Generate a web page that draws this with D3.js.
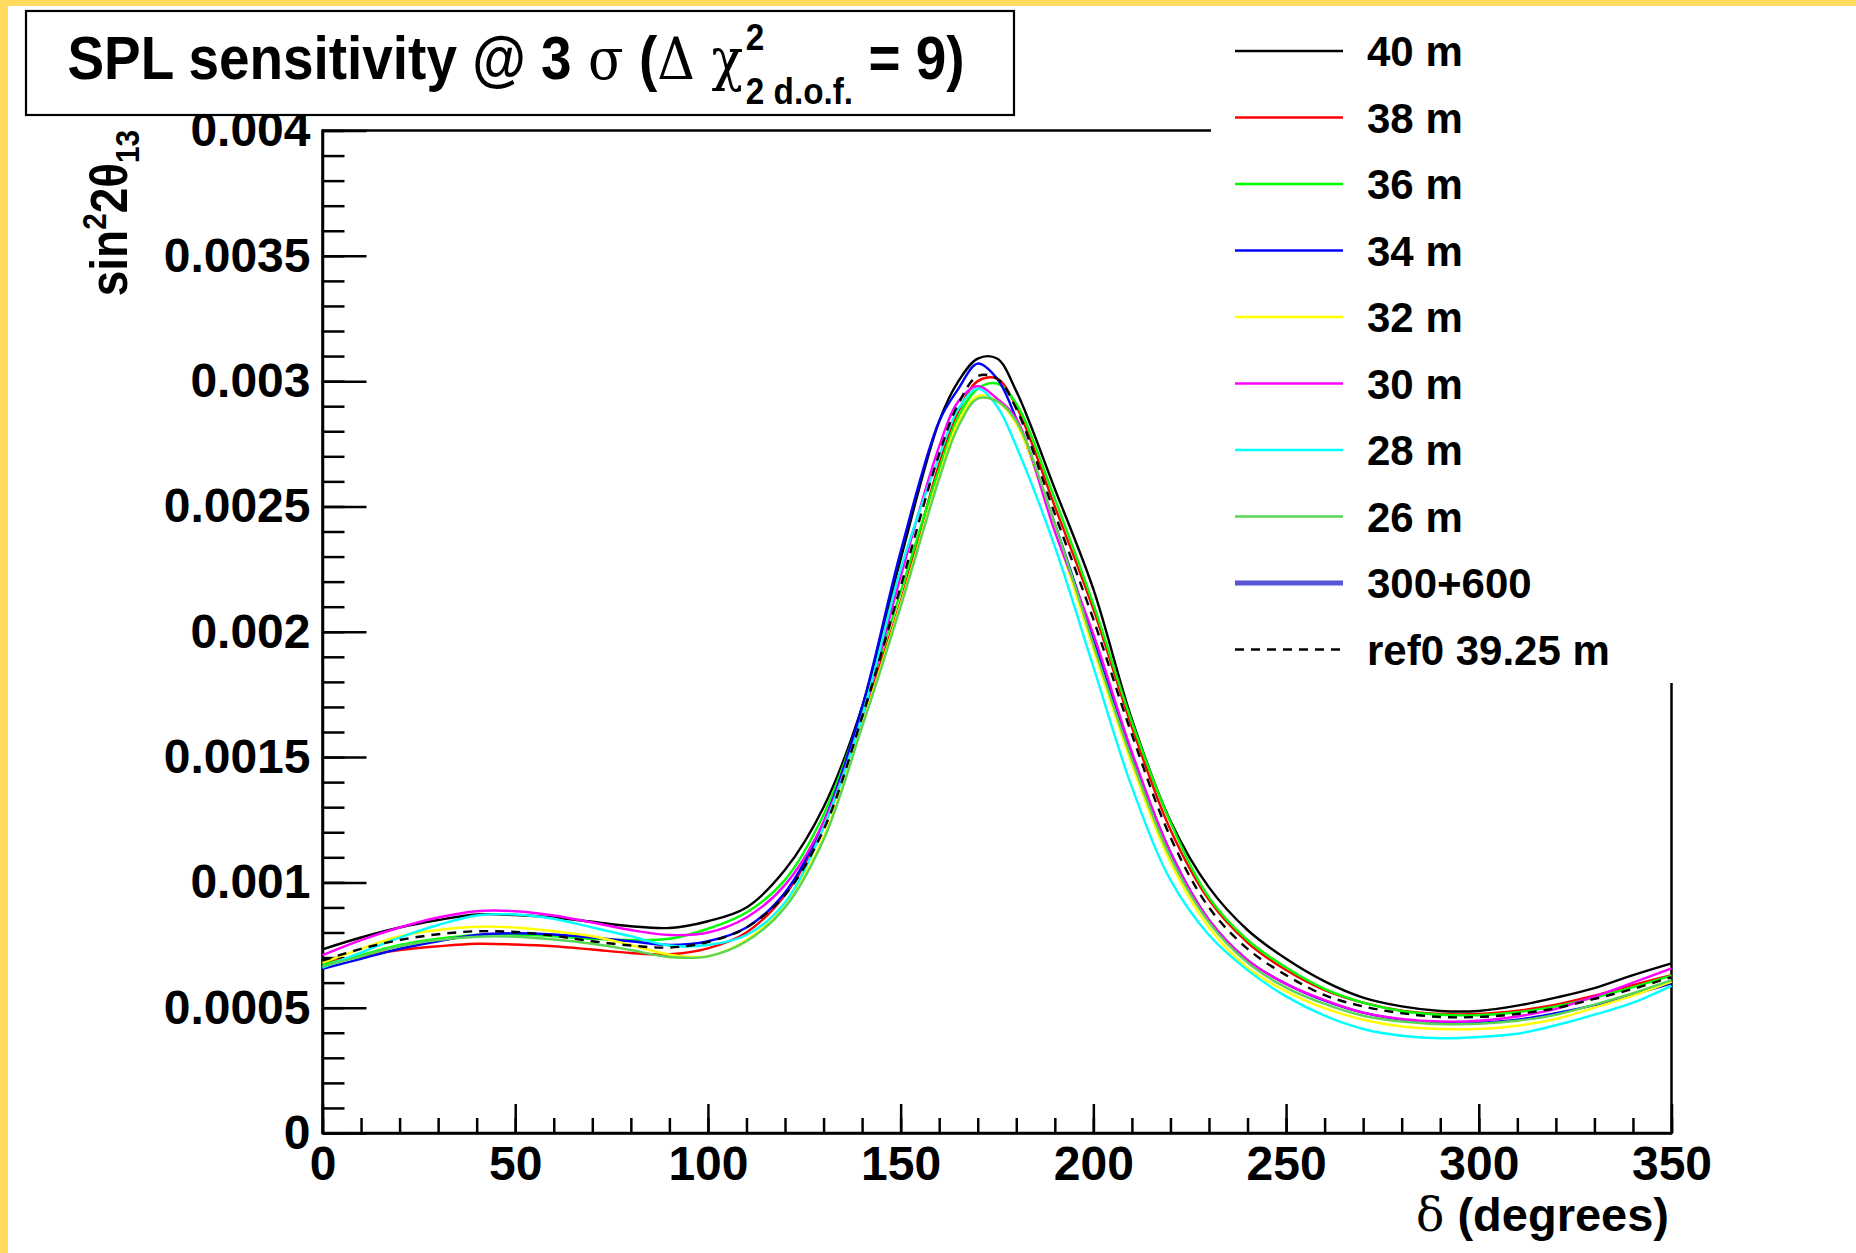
<!DOCTYPE html>
<html>
<head>
<meta charset="utf-8">
<script src="https://cdn.jsdelivr.net/npm/d3@7"></script>
<style>
body { margin: 0; background: #fff; }
svg text { font-family: "Liberation Sans", Arial, Helvetica, sans-serif; font-weight: bold; fill: #000; }
.axis path, .axis line { stroke: #000; stroke-width: 2.5; }
.axis text { font-size: 48px; font-family: "Liberation Sans", Arial, sans-serif; font-weight: bold; }
.greek { font-family: "DejaVu Serif", "Liberation Serif", serif; font-weight: normal; }
</style>
</head>
<body>
<svg width="1856" height="1253"></svg>
<script>
// delta (degrees) sampling points
var deg = [0,10,20,30,40,50,60,70,80,90,100,110,120,130,140,150,160,165,170,175,180,190,200,210,220,230,240,250,260,270,280,290,300,310,320,330,340,350];

// sin^2 2theta13 sensitivity for each baseline
var m40 = [0.000733,0.00078,0.00082,0.00085,0.000872,0.00087,0.00086,0.000843,0.000825,0.000818,0.000845,0.0009,0.00105,0.0013,0.0017,0.00229,0.00284,0.003,0.00309,0.00309,0.00296,0.00257,0.00217,0.00165,0.001245,0.00098,0.00081,0.000695,0.000605,0.00054,0.000505,0.000487,0.000487,0.000508,0.00054,0.000578,0.00063,0.000677];
var m38 = [0.00068,0.000705,0.00073,0.000745,0.000755,0.000752,0.000745,0.000732,0.000718,0.000713,0.000737,0.0008,0.00095,0.00122,0.00166,0.00212,0.00267,0.00288,0.003,0.00301,0.0029,0.0025,0.00209,0.00162,0.00121,0.00093,0.00076,0.00065,0.00057,0.00052,0.000488,0.000475,0.000475,0.000488,0.000512,0.000548,0.00059,0.00063];
var m36 = [0.000672,0.00071,0.00075,0.000775,0.00079,0.000792,0.000785,0.000775,0.00077,0.000775,0.000815,0.00088,0.00101,0.00127,0.00168,0.00216,0.00265,0.00286,0.00297,0.00299,0.00291,0.00253,0.00211,0.00164,0.00124,0.00094,0.00077,0.00066,0.000575,0.00052,0.000487,0.000472,0.00047,0.000482,0.000505,0.00054,0.000582,0.000628];
var m34 = [0.000655,0.000695,0.000735,0.000765,0.00079,0.000797,0.000792,0.00078,0.000765,0.00075,0.000765,0.00082,0.00096,0.00124,0.0017,0.00232,0.00284,0.00297,0.00307,0.00301,0.00285,0.00243,0.00197,0.00151,0.00112,0.00085,0.00069,0.000595,0.000528,0.00048,0.000452,0.000439,0.00044,0.000452,0.000478,0.00051,0.000552,0.000597];
var m32 = [0.00068,0.000735,0.000785,0.00081,0.000823,0.00082,0.000805,0.000785,0.00075,0.000712,0.000705,0.00077,0.00091,0.00118,0.00163,0.00211,0.00262,0.00284,0.00294,0.00292,0.00283,0.00241,0.00193,0.00147,0.00108,0.00082,0.00066,0.000565,0.000498,0.000452,0.000425,0.000415,0.000415,0.000428,0.000455,0.0005,0.000548,0.000604];
var m30 = [0.00071,0.00077,0.00082,0.00086,0.000885,0.000885,0.000868,0.00084,0.00081,0.00079,0.0008,0.00086,0.00099,0.00124,0.00166,0.00222,0.00274,0.00292,0.00298,0.00293,0.00285,0.0024,0.00199,0.00152,0.00112,0.00085,0.00069,0.000595,0.00053,0.00048,0.000455,0.000445,0.000448,0.000465,0.000495,0.000545,0.0006,0.000657];
var m28 = [0.00066,0.00072,0.00078,0.00083,0.000868,0.000872,0.000855,0.00082,0.000785,0.000748,0.00075,0.00079,0.00092,0.00122,0.00166,0.00225,0.0027,0.00289,0.00297,0.0029,0.00274,0.00234,0.00186,0.00138,0.00101,0.00079,0.00065,0.000545,0.000468,0.000415,0.000388,0.000378,0.000383,0.000396,0.00043,0.000472,0.00052,0.000587];
var m26 = [0.000665,0.000705,0.000745,0.00077,0.000783,0.000783,0.000772,0.000755,0.00073,0.000702,0.000705,0.000765,0.0009,0.00117,0.00162,0.0021,0.00261,0.00282,0.00293,0.00292,0.00284,0.00243,0.00195,0.00149,0.0011,0.00084,0.00068,0.00058,0.000515,0.000468,0.000445,0.000435,0.000436,0.000448,0.000472,0.000512,0.000558,0.00061];
var ref0 = [0.000688,0.000735,0.00077,0.000793,0.000805,0.000802,0.000787,0.000765,0.000748,0.00074,0.000762,0.00082,0.00095,0.00121,0.00166,0.00218,0.00271,0.00291,0.00302,0.00301,0.00289,0.00247,0.00205,0.00159,0.00118,0.0009,0.000735,0.00063,0.00055,0.000505,0.000478,0.000463,0.000463,0.000475,0.000498,0.000535,0.000575,0.000622];

var xTicks = [0,50,100,150,200,250,300,350];
var yTicks = [0,0.0005,0.001,0.0015,0.002,0.0025,0.003,0.0035,0.004];
var yTickLabels = ["0","0.0005","0.001","0.0015","0.002","0.0025","0.003","0.0035","0.004"];

var legendLabels = ["40 m","38 m","36 m","34 m","32 m","30 m","28 m","26 m","300+600","ref0 39.25 m"];
var legendColors = ["#000000","#ff0000","#00ff00","#0000ff","#ffff00","#ff00ff","#00ffff","#59d454","#5954d8","#000000"];

var series = [
  {key: "40 m", values: m40, color: "#000000"},
  {key: "38 m", values: m38, color: "#ff0000"},
  {key: "36 m", values: m36, color: "#00ff00"},
  {key: "34 m", values: m34, color: "#0000ff"},
  {key: "32 m", values: m32, color: "#ffff00"},
  {key: "30 m", values: m30, color: "#ff00ff"},
  {key: "28 m", values: m28, color: "#00ffff"},
  {key: "26 m", values: m26, color: "#59d454"},
  {key: "ref0 39.25 m", values: ref0, color: "#000000", dash: "9,7"}
];

var svg = d3.select("svg");

// yellow page edge
svg.append("rect").attr("width", 1856).attr("height", 1253).attr("fill", "#ffda5c");
svg.append("rect").attr("x", 8).attr("y", 6).attr("width", 1848).attr("height", 1247).attr("fill", "#fff");

var margin = {top: 130.5, right: 184.5, bottom: 120, left: 322.5},
    width = 1856 - margin.left - margin.right,
    height = 1253 - margin.top - margin.bottom,
    g = svg.append("g").attr("transform", "translate(" + margin.left + "," + margin.top + ")");

var x = d3.scaleLinear().domain([0, 350]).range([0, width]);
var y = d3.scaleLinear().domain([0, 0.004]).range([height, 0]);

// frame
g.append("rect")
  .attr("width", width).attr("height", height)
  .attr("fill", "none").attr("stroke", "#000").attr("stroke-width", 2.5);

// minor ticks
g.append("g").attr("class", "axis")
  .call(d3.axisLeft(y).tickValues(y.ticks(40)).tickSize(-22).tickSizeOuter(0).tickFormat(""))
  .select(".domain").remove();
g.append("g").attr("class", "axis")
  .attr("transform", "translate(0," + height + ")")
  .call(d3.axisBottom(x).tickValues(x.ticks(35)).tickSize(-15).tickSizeOuter(0).tickFormat(""))
  .select(".domain").remove();

// major ticks + labels
g.append("g").attr("class", "axis")
  .call(d3.axisLeft(y).tickValues(yTicks).tickSize(-44).tickSizeOuter(0).tickPadding(12)
    .tickFormat(function(d, i) { return yTickLabels[i]; }));
g.append("g").attr("class", "axis")
  .attr("transform", "translate(0," + height + ")")
  .call(d3.axisBottom(x).tickValues(xTicks).tickSize(-29).tickSizeOuter(0).tickPadding(13));

// curves
var line = d3.line()
  .x(function(d, i) { return x(deg[i]); })
  .y(function(d) { return y(d); })
  .curve(d3.curveCatmullRom.alpha(0.5));

g.append("g").selectAll("path")
  .data(series)
  .enter().append("path")
    .attr("d", function(d) { return line(d.values); })
    .attr("fill", "none")
    .attr("stroke", function(d) { return d.color; })
    .attr("stroke-width", 2.4)
    .attr("stroke-dasharray", function(d) { return d.dash || null; });

// axis titles
var ylab = svg.append("text")
  .attr("transform", "translate(127,130) rotate(-90) scale(0.9,1)")
  .attr("text-anchor", "end")
  .attr("font-size", 51);
ylab.append("tspan").text("sin");
ylab.append("tspan").attr("font-size", 33).attr("dy", -21).text("2");
ylab.append("tspan").attr("dy", 21).text("2\u03b8");
ylab.append("tspan").attr("font-size", 33).attr("dy", 12).text("13");

var xlab = svg.append("text")
  .attr("x", 1669).attr("y", 1231)
  .attr("text-anchor", "end")
  .attr("font-size", 47);
xlab.append("tspan").attr("class", "greek").text("\u03b4");
xlab.append("tspan").text(" (degrees)");

// legend
svg.append("rect")
  .attr("x", 1211).attr("y", 6).attr("width", 645).attr("height", 677)
  .attr("fill", "#fff");

var legend = svg.append("g")
  .selectAll("g")
  .data(legendLabels)
  .enter().append("g")
    .attr("transform", function(d, i) { return "translate(1235," + (51 + i * 66.5) + ")"; });

legend.append("line")
  .attr("x1", 0).attr("x2", 108)
  .attr("stroke", function(d, i) { return legendColors[i]; })
  .attr("stroke-width", function(d, i) { return i == 8 ? 5 : 2.4; })
  .attr("stroke-dasharray", function(d, i) { return i == 9 ? "9,7" : null; });

legend.append("text")
  .attr("x", 132)
  .attr("dy", "0.36em")
  .attr("font-size", 42)
  .text(function(d) { return d; });

// title box
svg.append("rect")
  .attr("x", 26).attr("y", 11).attr("width", 988).attr("height", 104)
  .attr("fill", "#fff").attr("stroke", "#000").attr("stroke-width", 2.2);

var title = svg.append("g");
var cursor = 0;
function piece(txt, size, greek, dy) {
  var t = title.append("text")
    .attr("x", cursor).attr("y", dy || 0)
    .attr("font-size", size)
    .text(txt);
  if (greek) t.attr("class", "greek");
  return t.node().getComputedTextLength();
}
cursor += piece("SPL sensitivity @ 3", 61);
cursor += piece("\u00a0\u03c3", 58, true);
cursor += piece("\u00a0(", 61);
cursor += piece("\u0394", 58, true);
cursor += piece("\u00a0\u03c7", 58, true);
cursor += 3;
var wSup = piece("2", 37, false, -29);
var wSub = piece("2 d.o.f.", 37, false, 25);
cursor += Math.max(wSup, wSub);
cursor += piece("\u00a0= 9)", 61);
title.attr("transform", "translate(67.5,79) scale(" + (897 / cursor) + ",1)");
</script>
</body>
</html>
